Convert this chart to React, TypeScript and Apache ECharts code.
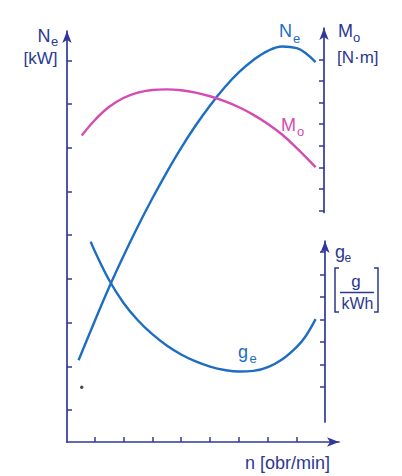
import { useEffect, useRef } from 'react'
import * as echarts from 'echarts'

// ─── colours ───
const AXIS = '#30399a'
const TEXT = '#2b3990'
const BLUE = '#1d6ec2'
const PINK = '#d44bb4'
const FONT = "'Liberation Sans', Arial, sans-serif"

// ─── ticks (axis units) ───
const N_TICKS = [1, 2, 3, 4, 5, 6, 7, 8]
const NE_TICKS = [1, 2, 3, 4, 5, 6, 7, 8, 9]
const MO_TICKS = [1, 2, 3, 4, 5, 6, 7, 8]
const GE_TICKS = [2, 3, 4, 5, 6, 7, 8]

// ─── curves ───
const NE_N = [0.45, 1, 1.5, 2, 2.5, 3, 3.5, 4, 4.5, 5, 5.5, 6, 6.5, 7, 7.5, 8, 8.3, 8.65]
const NE = [2.14, 3.02, 3.8, 4.52, 5.2, 5.84, 6.44, 7.0, 7.51, 7.97, 8.38, 8.73, 9.01, 9.22, 9.32, 9.28, 9.17, 8.96]

const MO_N = [0.56, 1, 1.5, 2, 2.5, 3, 3.5, 4, 4.5, 5, 5.5, 6, 6.5, 7, 7.5, 8, 8.65]
const MO = [4.47, 5.17, 5.79, 6.21, 6.46, 6.58, 6.61, 6.57, 6.46, 6.29, 6.06, 5.78, 5.43, 5.01, 4.51, 3.89, 3.01]

const GE_N = [0.87, 1, 1.5, 2, 2.5, 3, 3.5, 4, 4.5, 5, 5.5, 6, 6.5, 7, 7.5, 8, 8.3, 8.65]
const GE = [8.46, 8.07, 6.77, 5.75, 4.97, 4.35, 3.85, 3.45, 3.14, 2.91, 2.76, 2.69, 2.72, 2.89, 3.24, 3.79, 4.25, 5.02]

// stray dot on the scan
const DOT: [number, number][] = [[0.56, 1.52]]

// ─── range of each axis ───
const N_MIN = 0.05, N_MAX = 9.46
const NE_MIN = 0.268, NE_MAX = 9.673
const MO_MIN = 0.91, MO_MAX = 9.45
const GE_MIN = 0.45, GE_MAX = 8.49

const zip = (xs: number[], ys: number[]) => xs.map((x, i) => [x, ys[i]])

const txt = (x: number, y: number, text: string, size: number, color: string, align = 'left') => ({
  type: 'text', x, y,
  style: { text, fill: color, font: `${size}px ${FONT}`, align, verticalAlign: 'middle' },
})

export default function App() {
  const ref = useRef<HTMLDivElement>(null)

  useEffect(() => {
    document.body.style.margin = '0'
    if (!ref.current) return
    const chart = echarts.init(ref.current, undefined, { renderer: 'svg' })

    const arrowLine = { show: true, onZero: false, symbol: ['none', 'arrow'], symbolSize: [7, 12], lineStyle: { color: AXIS, width: 1.7 } }
    const tick = (vals: number[]) => ({ show: true, inside: true, length: 5, customValues: vals, lineStyle: { color: AXIS, width: 1.5 } })
    const hiddenX = (gridIndex: number) => ({ type: 'value', gridIndex, min: N_MIN, max: N_MAX, show: false })

    const line = (name: string, data: number[][], idx: number, color: string) => ({
      type: 'line', name, data, xAxisIndex: idx, yAxisIndex: idx,
      smooth: 0.4, showSymbol: false, symbol: 'none',
      lineStyle: { color, width: 2.4 }, itemStyle: { color },
    })

    chart.setOption({
      animation: false,
      backgroundColor: '#fff',
      grid: [
        { left: 67, top: 31, width: 272, height: 411, outerBoundsMode: 'none' },
        { left: 67, top: 28, width: 272, height: 184.5, outerBoundsMode: 'none' },
        { left: 67, top: 241, width: 272, height: 181, outerBoundsMode: 'none' },
      ],
      xAxis: [
        {
          type: 'value', gridIndex: 0, min: N_MIN, max: N_MAX,
          axisLine: arrowLine, axisTick: tick(N_TICKS),
          axisLabel: { show: false }, splitLine: { show: false },
        },
        hiddenX(1),
        hiddenX(2),
      ],
      yAxis: [
        {
          type: 'value', gridIndex: 0, position: 'left', min: NE_MIN, max: NE_MAX,
          axisLine: arrowLine, axisTick: tick(NE_TICKS),
          axisLabel: { show: false }, splitLine: { show: false },
        },
        {
          type: 'value', gridIndex: 1, position: 'right', offset: -15, min: MO_MIN, max: MO_MAX,
          axisLine: arrowLine, axisTick: tick(MO_TICKS),
          axisLabel: { show: false }, splitLine: { show: false },
        },
        {
          type: 'value', gridIndex: 2, position: 'right', offset: -14, min: GE_MIN, max: GE_MAX,
          axisLine: arrowLine, axisTick: tick(GE_TICKS),
          axisLabel: { show: false }, splitLine: { show: false },
        },
      ],
      series: [
        line('Ne', zip(NE_N, NE), 0, BLUE),
        line('Mo', zip(MO_N, MO), 1, PINK),
        line('ge', zip(GE_N, GE), 2, BLUE),
        { type: 'scatter', data: DOT, xAxisIndex: 0, yAxisIndex: 0, symbolSize: 3.5, itemStyle: { color: '#222' } },
      ],
      graphic: [
        // left axis title
        txt(50.5, 35.5, 'N', 18, TEXT, 'right'),
        txt(51, 41, 'e', 13, TEXT),
        txt(57.5, 58, '[kW]', 17, TEXT, 'right'),
        // upper right axis title
        txt(338, 31, 'M', 18, TEXT),
        txt(353, 37, 'o', 13, TEXT),
        txt(337, 57, '[N·m]', 17, TEXT),
        // lower right axis title
        txt(335, 252, 'g', 18, TEXT),
        txt(344.5, 258, 'e', 12, TEXT),
        txt(356, 281, 'g', 17, TEXT, 'center'),
        { type: 'line', shape: { x1: 340, y1: 292.5, x2: 374, y2: 292.5 }, style: { stroke: TEXT, lineWidth: 1.3 } },
        txt(357.5, 303.5, 'kWh', 16, TEXT, 'center'),
        { type: 'polyline', shape: { points: [[339, 268], [335, 268], [335, 312], [339, 312]] }, style: { stroke: TEXT, fill: 'none', lineWidth: 1.5 } },
        { type: 'polyline', shape: { points: [[374, 268], [378, 268], [378, 312], [374, 312]] }, style: { stroke: TEXT, fill: 'none', lineWidth: 1.5 } },
        // x axis title
        txt(330, 463, 'n [obr/min]', 18, TEXT, 'right'),
        // curve labels
        txt(279, 31, 'N', 18, BLUE),
        txt(293, 38, 'e', 13, BLUE),
        txt(281, 125, 'M', 18, PINK),
        txt(297, 131, 'o', 13, PINK),
        txt(238, 352, 'g', 18, BLUE),
        txt(249.5, 358, 'e', 13, BLUE),
      ],
    })

    return () => chart.dispose()
  }, [])

  return <div ref={ref} style={{ width: 402, height: 476 }} />
}
